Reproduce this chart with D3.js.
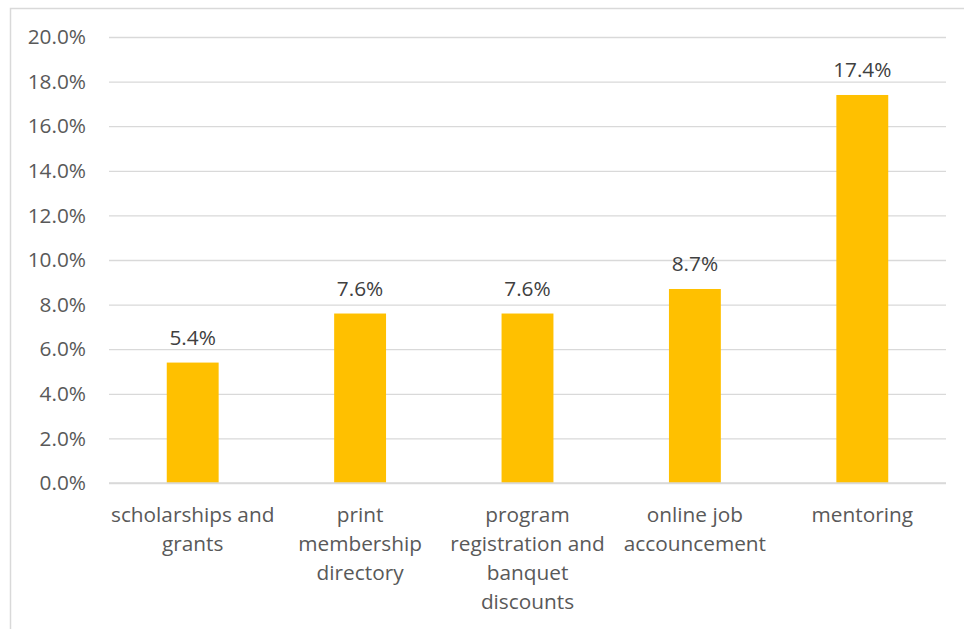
<!DOCTYPE html>
<html>
<head>
<meta charset="utf-8">
<script src="https://cdn.jsdelivr.net/npm/d3@7"></script>
<style>
  html, body { margin: 0; padding: 0; background: #fff; }
  svg { display: block; }
  text { font-family: "Open Sans", "Noto Sans", sans-serif; }
</style>
</head>
<body>
<svg id="chart" width="964" height="629"></svg>
<script>
// Member benefit categories (each entry is a list of label lines)
const categories = [
  ["scholarships and", "grants"],
  ["print", "membership", "directory"],
  ["program", "registration and", "banquet", "discounts"],
  ["online job", "accouncement"],
  ["mentoring"]
];
// Share of respondents per category, in percent
const values = [5.4, 7.6, 7.6, 8.7, 17.4];
// Y axis ticks, in percent
const yTicks = [0, 2, 4, 6, 8, 10, 12, 14, 16, 18, 20];

const svg = d3.select("#chart");
const W = 964, H = 629;
const plot = { left: 109, right: 946, top: 37, bottom: 483 };
const fontPx = "20.8px";

// Outer chart frame
svg.append("rect")
  .attr("x", 10.5).attr("y", 8.5)
  .attr("width", W + 10).attr("height", H + 10)
  .attr("fill", "none")
  .attr("stroke", "#d9d9d9")
  .attr("stroke-width", 1.5);

const x = d3.scaleBand()
  .domain(d3.range(categories.length))
  .range([plot.left, plot.right])
  .padding(0);

const y = d3.scaleLinear()
  .domain([0, 20])
  .range([plot.bottom, plot.top]);

// Horizontal gridlines and tick labels
const yAxis = d3.axisLeft(y)
  .tickValues(yTicks)
  .tickSize(-(plot.right - plot.left))
  .tickPadding(23)
  .tickFormat(d => d.toFixed(1) + "%");

const gy = svg.append("g")
  .attr("transform", `translate(${plot.left},0)`)
  .call(yAxis);
gy.select(".domain").remove();
gy.selectAll(".tick line")
  .attr("stroke", "#d9d9d9")
  .attr("stroke-width", 1.3);
gy.selectAll(".tick text")
  .attr("fill", "#595959")
  .style("font-size", fontPx);

// Bars
const barFrac = 0.31;
const barW = x.bandwidth() * barFrac;
svg.append("g")
  .selectAll("rect")
  .data(values)
  .join("rect")
  .attr("x", (d, i) => x(i) + (x.bandwidth() - barW) / 2)
  .attr("y", d => y(d))
  .attr("width", barW)
  .attr("height", d => y(0) - y(d))
  .attr("fill", "#FFC000");

// Baseline
svg.append("line")
  .attr("x1", plot.left).attr("x2", plot.right)
  .attr("y1", y(0)).attr("y2", y(0))
  .attr("stroke", "#d9d9d9")
  .attr("stroke-width", 1.3);

// Value labels above bars
svg.append("g")
  .selectAll("text")
  .data(values)
  .join("text")
  .attr("x", (d, i) => x(i) + x.bandwidth() / 2)
  .attr("y", d => y(d) - 18)
  .attr("text-anchor", "middle")
  .attr("fill", "#404040")
  .style("font-size", fontPx)
  .text(d => d.toFixed(1) + "%");

// Category labels under the axis
const catG = svg.append("g")
  .selectAll("text")
  .data(categories)
  .join("text")
  .attr("text-anchor", "middle")
  .attr("fill", "#595959")
  .style("font-size", fontPx);
catG.each(function(lines, i) {
  const t = d3.select(this);
  lines.forEach((ln, k) => {
    t.append("tspan")
      .attr("x", x(i) + x.bandwidth() / 2)
      .attr("y", 522 + k * 29)
      .text(ln);
  });
});
</script>
</body>
</html>
